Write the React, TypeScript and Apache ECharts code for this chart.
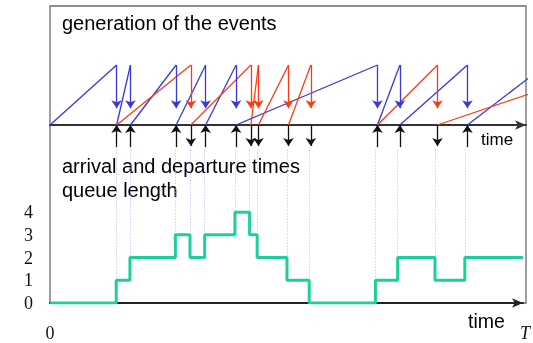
import React, { useEffect, useRef } from "react";
import * as echarts from "echarts";

// time axis runs from 0 to T
const T = 100;
// arrival times of customers
const arrivals = [14.0, 16.9, 26.5, 32.7, 39.1, 68.8, 73.5, 87.7];
const nextArrival = 104.1; // generated but beyond T
// departure times
const departures = [29.6, 42.2, 43.8, 50.1, 54.8, 81.4];
const nextDeparture = 118.6; // generated but beyond T
// service start times (red ramps)
const serviceStarts = [14.0, 29.6, 42.2, 43.8, 50.1, 68.8, 81.4];
// queue length step function
const queueTimes = [0, 14.0, 16.9, 26.5, 29.6, 32.7, 39.1, 42.2, 43.8, 50.1, 54.8, 68.8, 73.5, 81.4, 87.7, 100];
const queueLevels = [0, 1, 2, 3, 2, 3, 4, 3, 2, 1, 0, 1, 2, 1, 2, 2];
const yTickLabels = ["0", "1", "2", "3", "4"];

const BLUE = "#3838dc";
const RED = "#ff3a10";
const TEAL = "#1fcf9b";
const SANS = "'Liberation Sans', Arial, sans-serif";
const SERIF = "'Liberation Serif', 'Times New Roman', serif";

export default function App() {
  const ref = useRef<HTMLDivElement>(null);
  useEffect(() => {
    if (!ref.current) return;
    const chart = echarts.init(ref.current, undefined, { renderer: "svg" });

    const arrivalStarts = [0, ...arrivals];
    const arrivalEnds = [...arrivals, nextArrival];
    const blueRamps = arrivalStarts.map((s, i) => ({ coords: [[s, 0], [arrivalEnds[i], 1]] }));
    const depEnds = [...departures, nextDeparture];
    const redRamps = serviceStarts.map((s, i) => ({ coords: [[s, 0], [depEnds[i], 1]] }));

    const blueDown = arrivals.map((a) => ({ coords: [[a, 1], [a, 0.28]] }));
    const redDown = departures.map((d) => ({ coords: [[d, 1], [d, 0.28]] }));
    const arrUp = arrivals.map((a) => ({ coords: [[a, -0.37], [a, 0]] }));
    const depDown = departures.map((d) => ({ coords: [[d, 0], [d, -0.35]] }));

    const events = [...arrivals, ...departures];
    const dotted = events.map((e) => {
      const idx = queueTimes.indexOf(e);
      const lvl = Math.max(queueLevels[idx - 1], queueLevels[idx]);
      return { coords: [[e, 6.75], [e, lvl]] };
    });

    const queueData = queueTimes.map((t, i) => [t, queueLevels[i]]);

    chart.setOption({
      animation: false,
      grid: [
        { left: 50, top: 5, width: 476, height: 150 },
        { left: 50, top: 144, width: 476, height: 159 },
      ],
      xAxis: [
        {
          gridIndex: 0,
          type: "value",
          min: 0,
          max: T,
          axisLine: {
            show: true,
            onZero: true,
            lineStyle: { color: "#333", width: 2 },
            symbol: ["none", "arrow"],
            symbolSize: [7, 11],
          },
          axisTick: { show: false },
          axisLabel: { show: false },
          splitLine: { show: false },
        },
        {
          gridIndex: 1,
          type: "value",
          min: 0,
          max: T,
          interval: T,
          axisLine: {
            show: true,
            lineStyle: { color: "#222", width: 2 },
            symbol: ["none", "arrow"],
            symbolSize: [7, 11],
          },
          axisTick: { show: false },
          splitLine: { show: false },
          axisLabel: {
            show: true,
            margin: 21,
            showMinLabel: true,
            showMaxLabel: true,
            formatter: (v: number) => (v === 0 ? "{n|0}" : "{t|T}"),
            rich: {
              n: { fontFamily: SERIF, fontSize: 18, color: "#111" },
              t: { fontFamily: SERIF, fontSize: 18, fontStyle: "italic", color: "#111", padding: [0, 0, 0, 4] },
            },
          },
        },
      ],
      yAxis: [
        {
          gridIndex: 0,
          type: "value",
          min: -0.5,
          max: 2,
          show: false,
        },
        {
          gridIndex: 1,
          type: "value",
          min: 0,
          max: 7,
          interval: 1,
          axisLine: { show: false },
          axisTick: { show: false },
          splitLine: { show: false },
          axisLabel: {
            margin: 17,
            fontFamily: SERIF,
            fontSize: 18,
            color: "#111",
            formatter: (v: number) => (v <= 4 ? yTickLabels[v] : ""),
          },
        },
      ],
      graphic: [
        {
          type: "rect",
          shape: { x: 50, y: 6, width: 476, height: 297 },
          style: { fill: "none", stroke: "#6a6a6a", lineWidth: 1.3 },
          z: 0,
        },
        {
          type: "text",
          x: 62,
          y: 23,
          style: { text: "generation of the events", font: `20px ${SANS}`, fill: "#000", verticalAlign: "middle" },
        },
        {
          type: "text",
          x: 62,
          y: 166,
          style: { text: "arrival and departure times", font: `20px ${SANS}`, fill: "#000", verticalAlign: "middle" },
        },
        {
          type: "text",
          x: 62,
          y: 190,
          style: { text: "queue length", font: `20px ${SANS}`, fill: "#000", verticalAlign: "middle" },
        },
        {
          type: "text",
          x: 481,
          y: 139,
          style: { text: "time", font: `17px ${SANS}`, fill: "#000", verticalAlign: "middle" },
        },
        {
          type: "text",
          x: 468,
          y: 321,
          style: { text: "time", font: `19.5px ${SANS}`, fill: "#000", verticalAlign: "middle" },
        },
      ],
      series: [
        {
          type: "lines",
          coordinateSystem: "cartesian2d",
          xAxisIndex: 1,
          yAxisIndex: 1,
          clip: true,
          symbol: ["none", "none"],
          lineStyle: { color: "#b4b4ff", width: 1, type: [1, 2], opacity: 1 },
          data: dotted,
          z: 1,
        },
        {
          type: "lines",
          coordinateSystem: "cartesian2d",
          xAxisIndex: 0,
          yAxisIndex: 0,
          clip: true,
          symbol: ["none", "none"],
          lineStyle: { color: BLUE, width: 1.3, opacity: 1 },
          data: blueRamps,
        },
        {
          type: "lines",
          coordinateSystem: "cartesian2d",
          xAxisIndex: 0,
          yAxisIndex: 0,
          clip: true,
          symbol: ["none", "none"],
          lineStyle: { color: RED, width: 1.3, opacity: 1 },
          data: redRamps,
        },
        {
          type: "lines",
          coordinateSystem: "cartesian2d",
          xAxisIndex: 0,
          yAxisIndex: 0,
          symbol: ["none", "arrow"],
          symbolSize: 8,
          lineStyle: { color: BLUE, width: 1.3, opacity: 1 },
          data: blueDown,
        },
        {
          type: "lines",
          coordinateSystem: "cartesian2d",
          xAxisIndex: 0,
          yAxisIndex: 0,
          symbol: ["none", "arrow"],
          symbolSize: 8,
          lineStyle: { color: RED, width: 1.3, opacity: 1 },
          data: redDown,
        },
        {
          type: "lines",
          coordinateSystem: "cartesian2d",
          xAxisIndex: 0,
          yAxisIndex: 0,
          clip: false,
          symbol: ["none", "arrow"],
          symbolSize: 8,
          lineStyle: { color: "#111", width: 1.3, opacity: 1 },
          data: [...arrUp, ...depDown],
        },
        {
          type: "line",
          xAxisIndex: 1,
          yAxisIndex: 1,
          step: "end",
          showSymbol: false,
          symbol: "none",
          lineStyle: { color: TEAL, width: 3 },
          data: queueData,
          z: 5,
        },
      ],
    });
    return () => chart.dispose();
  }, []);
  return <div ref={ref} style={{ position: "fixed", left: 0, top: 0, width: 533, height: 343 }} />;
}
